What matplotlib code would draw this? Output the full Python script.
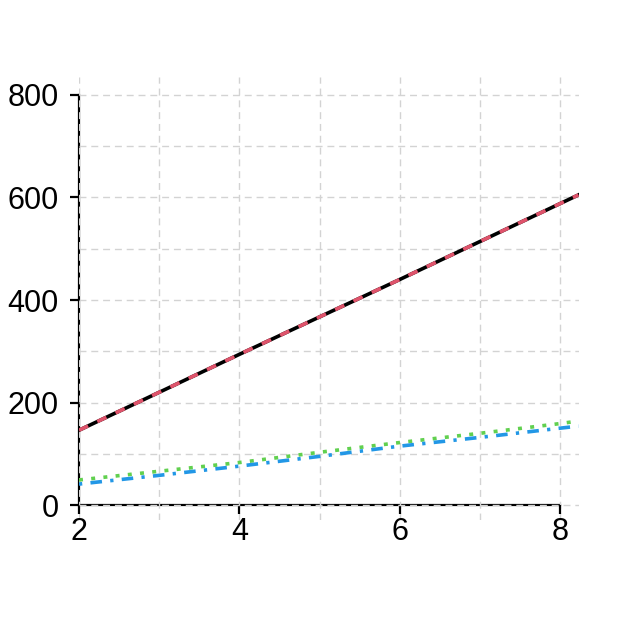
import matplotlib.pyplot as plt
from matplotlib.ticker import MultipleLocator

plt.rcParams['font.family'] = ['Liberation Sans', 'DejaVu Sans']

# values
x = [2, 3, 4, 5, 6, 7, 8, 8.23]
y_black = [146, 220, 294, 367, 440, 514, 588, 605]
y_red = [146, 220, 294, 367, 440, 514, 588, 605]
y_green = [49, 66, 83, 103, 122, 140, 159, 164]
y_blue = [41, 58, 76, 95, 115, 132, 150, 154]

series = [
    (y_black, "black", "-"),
    (y_red, "#DF536B", (0, (2.8, 2.8))),
    (y_green, "#61D04F", (0, (1.1, 2.3))),
    (y_blue, "#2297E6", (0, (0.9, 2.3, 3.2, 2.3))),
]

fig = plt.figure(figsize=(6.2, 6.19), dpi=100)
ax = fig.add_axes([0.1274, 0.160, 0.8065, 0.7156])

for ys, col, ls in series:
    ax.plot(x, ys, color=col, linestyle=ls, linewidth=2.6, zorder=3)

ax.set_xlim(2, 8.237)
ax.set_ylim(-29, 835)

ax.xaxis.set_major_locator(MultipleLocator(2))
ax.xaxis.set_minor_locator(MultipleLocator(1))
ax.yaxis.set_major_locator(MultipleLocator(200))
ax.yaxis.set_minor_locator(MultipleLocator(100))

ax.grid(True, which='both', color='#D3D3D3', linestyle=(0, (5, 3.5)), linewidth=1)
ax.set_axisbelow(True)

for s in ['top', 'right']:
    ax.spines[s].set_visible(False)
ax.spines['bottom'].set_position(('data', 0))
ax.spines['bottom'].set_bounds(2, 8)
ax.spines['left'].set_bounds(0, 800)
for s in ['left', 'bottom']:
    ax.spines[s].set_linewidth(1.6)
    ax.spines[s].set_zorder(0.3)

ax.tick_params(which='major', length=6.5, width=1.6, labelsize=22, pad=2, color='black')
ax.tick_params(axis='y', which='major', pad=8)
ax.tick_params(which='minor', length=0)

fig.savefig("out.png", dpi=100)
